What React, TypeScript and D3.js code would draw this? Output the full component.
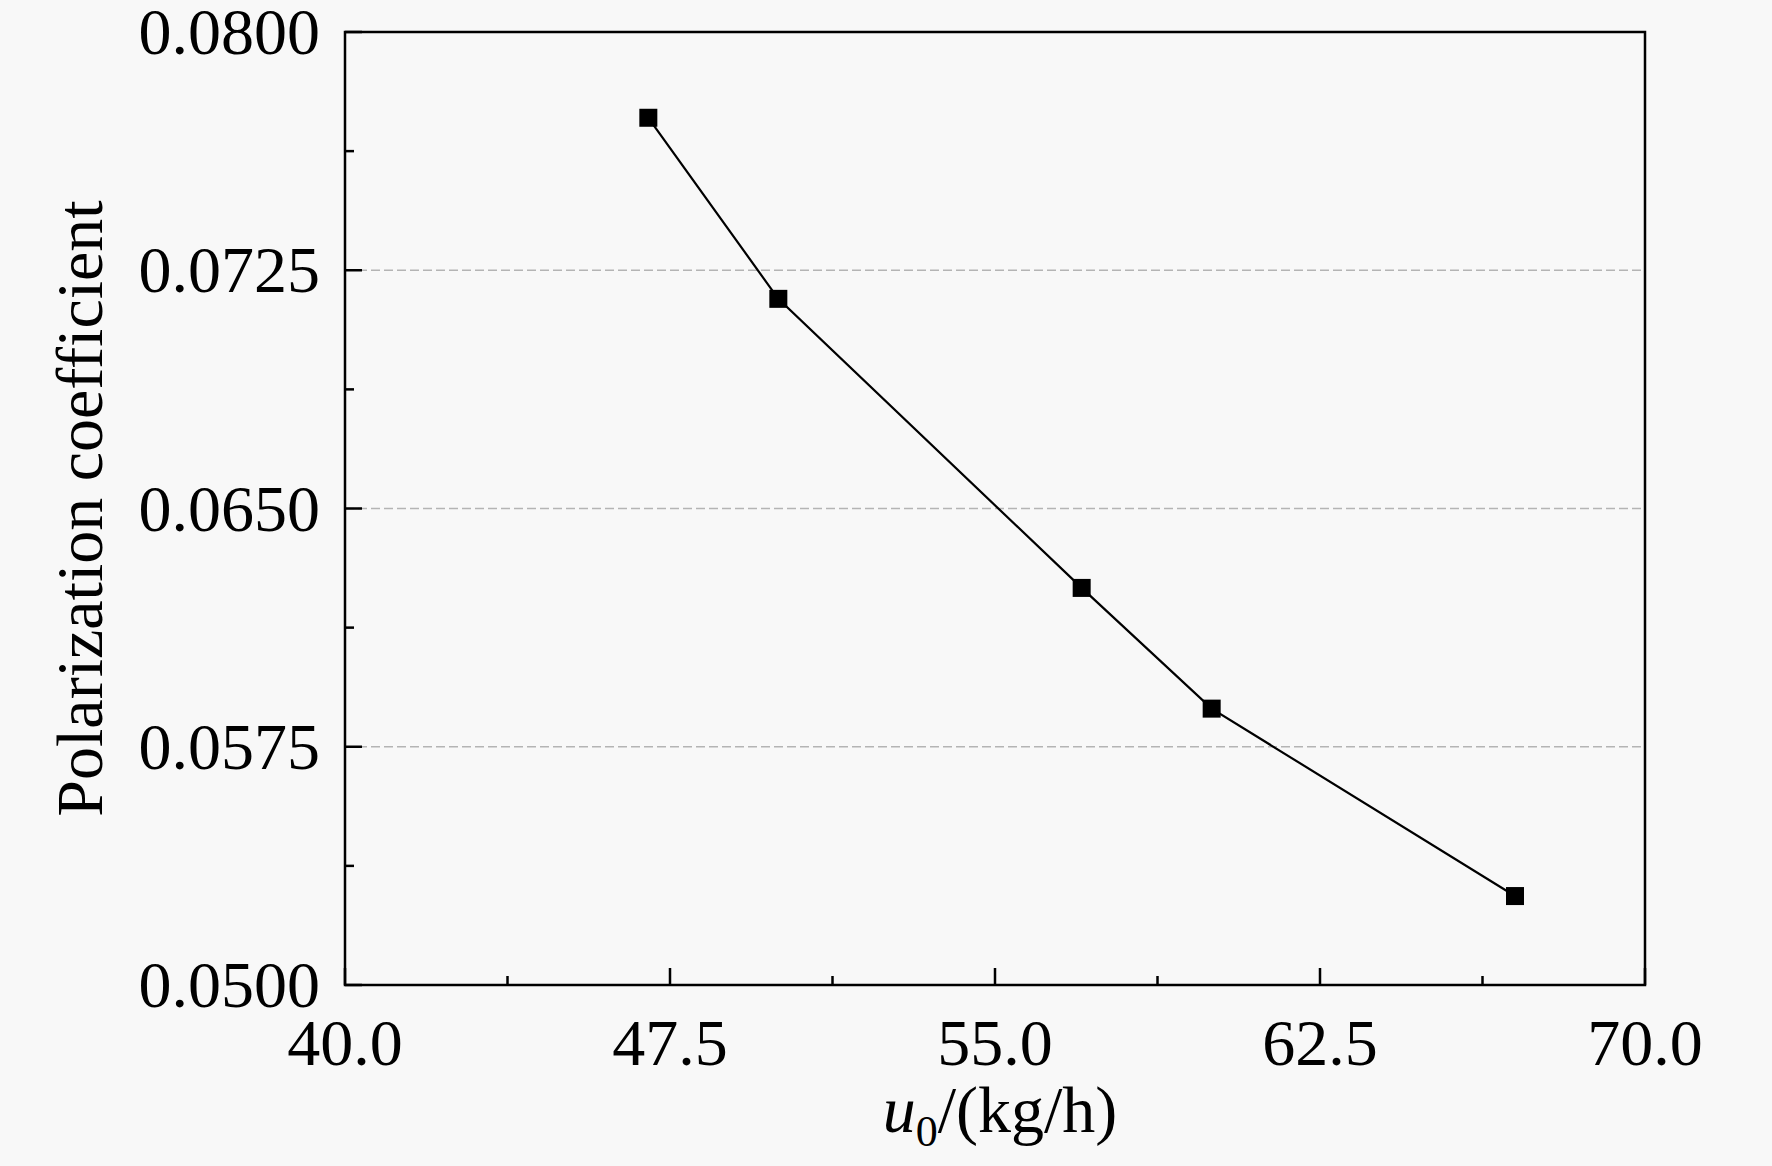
import React from "react";
import * as d3 from "d3";

const flowRates = [47.0, 50.0, 57.0, 60.0, 67.0];
const polarization = [0.0773, 0.0716, 0.0625, 0.0587, 0.0528];
const xTicks = [40.0, 47.5, 55.0, 62.5, 70.0];
const yTicks = [0.05, 0.0575, 0.065, 0.0725, 0.08];
const yGridTicks = [0.0575, 0.065, 0.0725];

const W = 1772;
const H = 1166;
const M = { left: 345, right: 1645, top: 32, bottom: 985 };
const FONT = "'Liberation Serif', 'Times New Roman', serif";

export default function App() {
  const x = d3.scaleLinear().domain([40, 70]).range([M.left, M.right]);
  const y = d3.scaleLinear().domain([0.05, 0.08]).range([M.bottom, M.top]);
  const xMinor = d3.range(0, 4).map((i) => xTicks[i] + 3.75);
  const yMinor = d3.range(0, 4).map((i) => yTicks[i] + 0.00375);
  const pts = flowRates.map((v, i) => [x(v), y(polarization[i])] as [number, number]);
  const line = d3.line()(pts) || "";
  const S = 18;

  return (
    <svg
      width={W}
      height={H}
      style={{ position: "absolute", left: 0, top: 0, background: "#f8f8f8" }}
    >
      <rect x={0} y={0} width={W} height={H} fill="#f8f8f8" />
      {yGridTicks.map((t) => (
        <line
          key={"g" + t}
          x1={M.left}
          x2={M.right}
          y1={y(t)}
          y2={y(t)}
          stroke="#b4b4b4"
          strokeWidth={1.5}
          strokeDasharray="9 4"
        />
      ))}
      <rect
        x={M.left}
        y={M.top}
        width={M.right - M.left}
        height={M.bottom - M.top}
        fill="none"
        stroke="#000"
        strokeWidth={2.5}
      />
      {xTicks.map((t) => (
        <line key={"xt" + t} x1={x(t)} x2={x(t)} y1={M.bottom} y2={M.bottom - 17} stroke="#000" strokeWidth={2.5} />
      ))}
      {xMinor.map((t) => (
        <line key={"xm" + t} x1={x(t)} x2={x(t)} y1={M.bottom} y2={M.bottom - 9} stroke="#000" strokeWidth={2.5} />
      ))}
      {yTicks.map((t) => (
        <line key={"yt" + t} x1={M.left} x2={M.left + 17} y1={y(t)} y2={y(t)} stroke="#000" strokeWidth={2.5} />
      ))}
      {yMinor.map((t) => (
        <line key={"ym" + t} x1={M.left} x2={M.left + 9} y1={y(t)} y2={y(t)} stroke="#000" strokeWidth={2.5} />
      ))}
      {xTicks.map((t) => (
        <text
          key={"xl" + t}
          x={x(t)}
          y={M.bottom + 80}
          textAnchor="middle"
          fontFamily={FONT}
          fontSize={66}
          fill="#000"
        >
          {t.toFixed(1)}
        </text>
      ))}
      {yTicks.map((t) => (
        <text
          key={"yl" + t}
          x={M.left - 25}
          y={y(t) + 22}
          textAnchor="end"
          fontFamily={FONT}
          fontSize={66}
          fill="#000"
        >
          {t.toFixed(4)}
        </text>
      ))}
      <path d={line} fill="none" stroke="#000" strokeWidth={2.2} />
      {pts.map(([px, py], i) => (
        <rect key={"p" + i} x={px - S / 2} y={py - S / 2} width={S} height={S} fill="#000" />
      ))}
      <text
        x={(M.left + M.right) / 2 + 5}
        y={1132}
        textAnchor="middle"
        fontFamily={FONT}
        fontSize={66}
        fill="#000"
      >
        <tspan fontStyle="italic">u</tspan>
        <tspan fontSize={44} dy={14}>0</tspan>
        <tspan dy={-14}>/(kg/h)</tspan>
      </text>
      <text
        transform={`translate(102, ${(M.top + M.bottom) / 2}) rotate(-90)`}
        textAnchor="middle"
        fontFamily={FONT}
        fontSize={66}
        fill="#000"
      >
        Polarization coefficient
      </text>
    </svg>
  );
}
